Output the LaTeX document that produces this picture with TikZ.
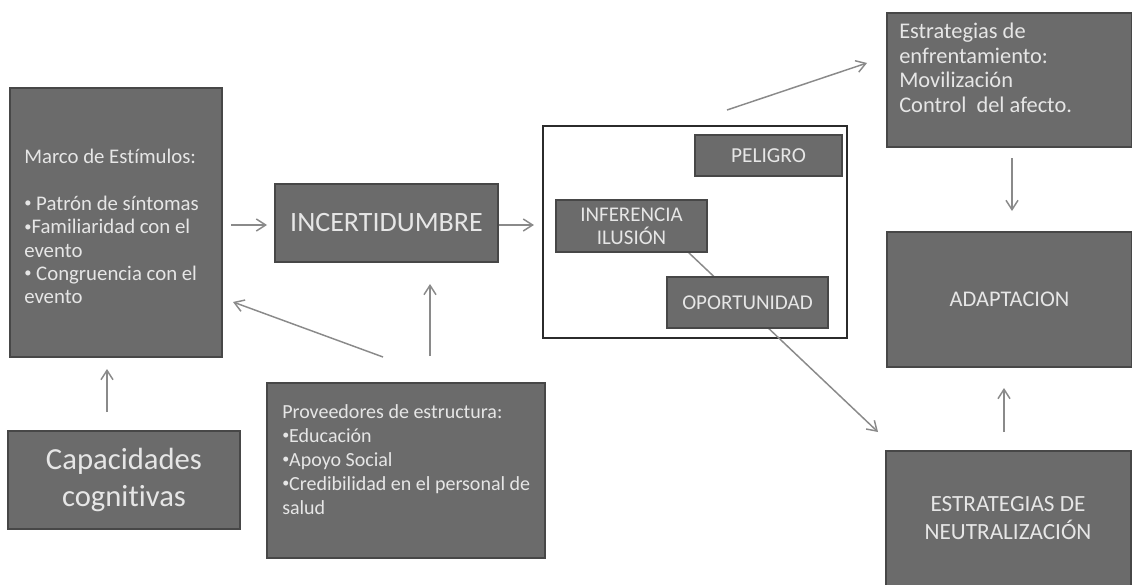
\documentclass[tikz,border=0pt]{standalone}
\usepackage{fontspec}
\setmainfont{Carlito}[Ligatures=NoCommon]
\usetikzlibrary{arrows.meta,backgrounds,calc}
\definecolor{boxfill}{HTML}{6B6B6B}
\definecolor{boxline}{HTML}{474747}
\definecolor{txtc}{HTML}{E6E6E6}
\definecolor{arrowc}{HTML}{8A8A8A}
\definecolor{frame}{HTML}{2B2B2B}
\newcommand{\blt}{\raisebox{0.12em}{\scalebox{0.7}{•}}}
\begin{document}
\begin{tikzpicture}[x=0.75pt,y=-0.75pt,
  box/.style={draw=boxline, fill=boxfill, line width=1.5pt, inner sep=0pt, text=txtc, align=center},
  btext/.style={inner sep=0pt, text=txtc, align=left, anchor=north west},
  arr/.style={draw=arrowc, line width=1.1pt, -{Straight Barb[length=7pt,width=9pt]}}]
\useasboundingbox (0,0) rectangle (1132,585);
\fill[white] (0,0) rectangle (1132,585);

% big frame
\node[draw=frame, line width=1.6pt, fill=white, minimum width=228pt, minimum height=159pt, inner sep=0pt] (big) at (695,232) {};

% line from INFERENCIA behind OPORTUNIDAD
\coordinate (infout) at (688,252);
\coordinate (neuin) at (878,432);
\draw[arr] (infout) -- (neuin);

% boxes
\node[box, minimum width=159pt, minimum height=201.75pt] (marco) at (116,222.5) {};
\node[btext, font={\fontsize{15.6}{17.5}\selectfont}] (marcotxt) at (24,149)
  {Marco de Estímulos:\\[17.5pt]\blt{} Patrón de síntomas\\\blt Familiaridad con el\\evento\\\blt{} Congruencia con el\\evento};

\node[box, minimum width=167.25pt, minimum height=58.5pt, font={\fontsize{21}{25}\selectfont}] (inc) at (386.5,223) {INCERTIDUMBRE};

\node[box, minimum width=110.25pt, minimum height=30.75pt, font={\fontsize{16}{19}\selectfont}] (pel) at (768.5,155.5) {PELIGRO};
\node[box, minimum width=113.25pt, minimum height=39pt, font={\fontsize{15.7}{17.25}\selectfont}] (inf) at (631.5,226) {INFERENCIA\\ILUSIÓN};
\node[box, minimum width=120.75pt, minimum height=38.25pt, font={\fontsize{15.8}{19}\selectfont}] (opo) at (747.5,302.5) {OPORTUNIDAD};

\node[box, minimum width=183.75pt, minimum height=100.5pt] (enf) at (1009.5,80) {};
\node[btext, font={\fontsize{16.8}{18.4}\selectfont}] (enftxt) at (899,23)
  {Estrategias de\\enfrentamiento:\\Movilización\\Control~ del afecto.};

\node[box, minimum width=183.75pt, minimum height=101.25pt, font={\fontsize{16.8}{20}\selectfont}] (adapt) at (1009.5,299.5) {ADAPTACION};
\node[box, minimum width=183.75pt, minimum height=101.25pt, font={\fontsize{17.4}{21}\selectfont}] (neu) at (1008,518.5) {ESTRATEGIAS DE\\NEUTRALIZACIÓN};

\node[box, minimum width=174pt, minimum height=73.5pt, font={\fontsize{23}{27.5}\selectfont}] (cap) at (124,480) {Capacidades\\cognitivas};

\node[box, minimum width=208.5pt, minimum height=131.25pt] (prov) at (406,470.5) {};
\node[btext, font={\fontsize{15}{18}\selectfont}] (provtxt) at (282,404)
  {Proveedores de estructura:\\\blt Educación\\\blt Apoyo Social\\\blt Credibilidad en el personal de\\salud};

% connectors
\draw[arr, shorten <=6pt, shorten >=5.25pt] (marco.east |- 0,225) -- (inc.west |- 0,225);
\draw[arr, shorten >=6pt] (inc.east |- 0,225) -- (big.west |- 0,225);

\coordinate (pd1) at (383,357);
\coordinate (pd2) at (233,302);
\draw[arr] (pd1) -- (pd2);

\coordinate (vx) at (430,0);
\draw[arr, shorten <=19.5pt, shorten >=15.75pt] (prov.north -| vx) -- (inc.south -| vx);

\coordinate (cx) at (107,0);
\draw[arr, shorten <=13.5pt, shorten >=8.25pt] (cap.north -| cx) -- (marco.south -| cx);

\coordinate (es1) at (727,110);
\coordinate (es2) at (867,63);
\draw[arr] (es1) -- (es2);

\coordinate (ax) at (1012,0);
\draw[arr, shorten <=7.5pt, shorten >=15pt] (enf.south -| ax) -- (adapt.north -| ax);

\coordinate (bx) at (1004,0);
\draw[arr, shorten <=13.5pt, shorten >=15pt] (neu.north -| bx) -- (adapt.south -| bx);
\end{tikzpicture}
\end{document}
